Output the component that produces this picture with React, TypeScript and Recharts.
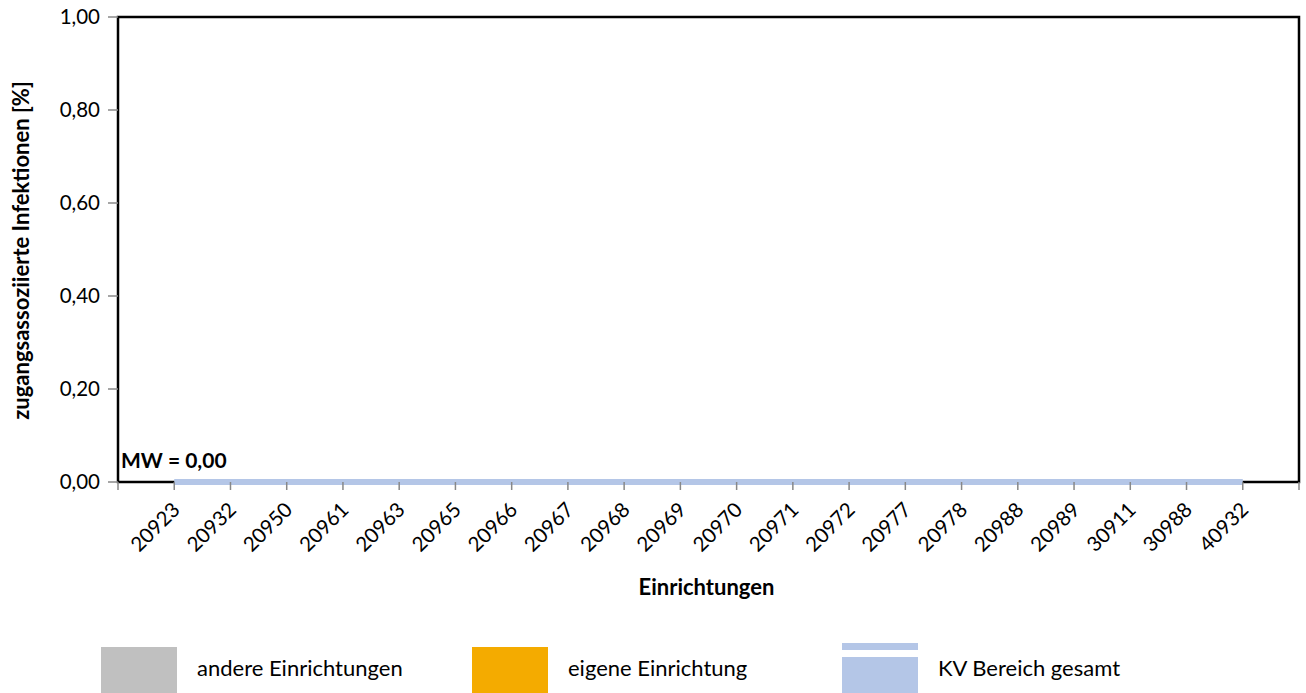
import React from 'react';
import { ComposedChart, Bar, Line, XAxis, YAxis, ReferenceArea, ReferenceLine } from 'recharts';

const categories = ['20923', '20932', '20950', '20961', '20963', '20965', '20966', '20967', '20968', '20969', '20970', '20971', '20972', '20977', '20978', '20988', '20989', '30911', '30988', '40932'];
const andereValues = [0, 0, 0, 0, 0, 0, 0, 0, 0, 0, 0, 0, 0, 0, 0, 0, 0, 0, 0, 0];
const kvValues = [0, 0, 0, 0, 0, 0, 0, 0, 0, 0, 0, 0, 0, 0, 0, 0, 0, 0, 0, 0];
const yTicks = [0, 0.2, 0.4, 0.6, 0.8, 1.0];
const mwLabel = 'MW = 0,00';

const FONT = 'Lato, "Open Sans", sans-serif';

const data = categories.map((c, i) => ({ x: i + 1, name: c, andere: andereValues[i], kv: kvValues[i] }));
const xTicks = Array.from({ length: categories.length + 2 }, (_, i) => i);

const fmt = (v: number) => v.toFixed(2).replace('.', ',');

const XTick = (props: any) => {
  const { x, y, payload } = props;
  const label = categories[payload.value - 1] ?? '';
  if (!label) return null;
  const ax = x + 7;
  const ay = y + 19;
  return (
    <text x={ax} y={ay} transform={`rotate(-45, ${ax}, ${ay})`} textAnchor="end" fontSize={20.5} fontFamily={FONT} fill="#000">
      {label}
    </text>
  );
};

const YTick = (props: any) => {
  const { x, y, payload } = props;
  return (
    <text x={x} y={y} dy={7} textAnchor="end" fontSize={20.5} fontFamily={FONT} fill="#000">
      {fmt(payload.value)}
    </text>
  );
};

const legendItems = [
  { label: 'andere Einrichtungen', color: '#c0c0c0', left: 101, kind: 'box' },
  { label: 'eigene Einrichtung', color: '#f4ab00', left: 472, kind: 'box' },
  { label: 'KV Bereich gesamt', color: '#b4c6e7', left: 842, kind: 'kv' },
];

export default function App() {
  return (
    <div style={{ position: 'absolute', left: 0, top: 0, width: 1306, height: 693, background: '#fff', fontFamily: FONT }}>
      <ComposedChart width={1306} height={693} data={data} margin={{ top: 17, right: 7, left: 0, bottom: 91 }}>
        <XAxis
          type="number"
          dataKey="x"
          domain={[0, categories.length + 1]}
          ticks={xTicks}
          interval={0}
          height={120}
          axisLine={false}
          tickLine={{ stroke: '#888', strokeWidth: 1.5 }}
          tickSize={8}
          tick={<XTick />}
          label={{
            content: (p: any) => {
              const vb = p.viewBox;
              return (
                <text x={vb.x + vb.width / 2 - 2} y={vb.y + 113} textAnchor="middle" fontSize={22} fontWeight="bold" fontFamily={FONT} fill="#000">
                  Einrichtungen
                </text>
              );
            },
          }}
        />
        <YAxis
          type="number"
          domain={[0, 1]}
          ticks={yTicks}
          width={118}
          axisLine={false}
          tickLine={{ stroke: '#888', strokeWidth: 1.5 }}
          tickSize={10}
          tickMargin={8}
          tick={<YTick />}
          label={{
            content: (p: any) => {
              const vb = p.viewBox;
              const cx = 20;
              const cy = vb.y + vb.height / 2 + 1;
              return (
                <text x={cx} y={cy} transform={`rotate(-90, ${cx}, ${cy})`} textAnchor="middle" dominantBaseline="central" fontSize={22} fontWeight="bold" fontFamily={FONT} fill="#000">
                  zugangsassoziierte Infektionen [%]
                </text>
              );
            },
          }}
        />
        <Bar dataKey="andere" fill="#c0c0c0" barSize={30} isAnimationActive={false} />
        <Line dataKey="kv" stroke="#b4c6e7" strokeWidth={6} dot={false} isAnimationActive={false} />
        <ReferenceArea x1={0} x2={categories.length + 1} y1={0} y2={1} fill="none" stroke="#000" strokeWidth={2.5} ifOverflow="visible" />
        <ReferenceLine
          y={0}
          stroke="none"
          label={{
            content: (p: any) => {
              const vb = p.viewBox;
              return (
                <text x={vb.x + 3} y={vb.y - 14} fontSize={21} fontWeight="bold" fontFamily={FONT} fill="#000">
                  {mwLabel}
                </text>
              );
            },
          }}
        />
      </ComposedChart>
      {legendItems.map((it) => (
        <React.Fragment key={it.label}>
          {it.kind === 'box' ? (
            <div style={{ position: 'absolute', left: it.left, top: 647, width: 76, height: 46, background: it.color }} />
          ) : (
            <>
              <div style={{ position: 'absolute', left: it.left, top: 643, width: 76, height: 7, background: it.color }} />
              <div style={{ position: 'absolute', left: it.left, top: 657, width: 76, height: 36, background: it.color }} />
            </>
          )}
          <div style={{ position: 'absolute', left: it.left + 96, top: 655, fontSize: 22, lineHeight: '26px', color: '#000', whiteSpace: 'nowrap' }}>
            {it.label}
          </div>
        </React.Fragment>
      ))}
    </div>
  );
}
